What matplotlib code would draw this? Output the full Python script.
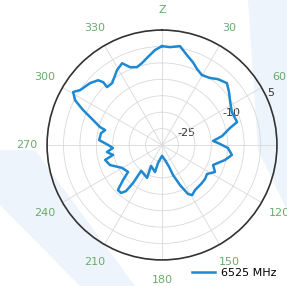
import numpy as np
import matplotlib
matplotlib.use('Agg')
import matplotlib.pyplot as plt
from matplotlib.patches import Polygon

# pattern (angle in degrees, level in dB)
angles_deg = [0, 4.7, 10.3, 15.5, 20.5, 24.7, 29.7, 35.6, 40.3, 46.4,
              51.7, 56.5, 64.8, 73.0, 76.0, 81.5, 85.5, 88.0, 92.6, 98.1,
              103.4, 111.4, 117.0, 122.8, 128.3, 135.0, 143.7, 149.0, 152.0, 155.8,
              159.9, 162.0, 168.0, 180.0, 192.5, 194.5, 207.6, 204.4, 218.9, 217.3,
              218.0, 220.5, 224.4, 228.1, 231.5, 240.1, 249.0, 255.3, 258.5, 262.7,
              266.5, 270.0, 274.5, 281.1, 284.7, 286.2, 289.9, 293.9, 297.3, 300.8,
              303.9, 310.7, 315.4, 316.9, 316.5, 321.1, 329.0, 334.0, 337.7, 342.2,
              346.3, 350.2, 355.8, 360.0]
gain_db = [0.1, -0.1, 0.6, -1.6, -3.1, -4.5, -5.5, -4.9, -3.7, -2.7,
           -4.0, -5.2, -6.5, -6.1, -8.7, -11.5, -14.4, -12.9, -9.9, -8.5,
           -10.3, -13.3, -11.9, -13.7, -13.3, -13.2, -13.0, -12.2, -13.1, -16.6,
           -20.3, -22.9, -25.2, -26.7, -24.4, -21.5, -22.8, -19.0, -19.9, -15.5,
           -12.2, -10.8, -10.8, -14.1, -16.8, -16.0, -13.0, -12.1, -14.8, -13.1,
           -15.0, -13.6, -10.8, -11.1, -12.1, -10.3, -7.7, -3.7, -0.2, 1.5,
           0.0, -1.1, -2.3, -3.8, -5.7, -5.8, -3.4, -2.3, -4.4, -5.1,
           -4.3, -3.1, -1.0, 0.1]

r_ticks = [-30, -25, -20, -15, -10, -5, 0, 5]
r_labels = ['', '-25', '', '', '-10', '', '', '5']
theta_ticks = [0, 30, 60, 90, 120, 150, 180, 210, 240, 270, 300, 330]
theta_labels = ['Z', '30', '60', '90', '120', '150', '180', '210', '240', '270', '300', '330']
series_name = '6525 MHz'

line_color = '#1f88d2'
label_green = '#6aab6a'
wm_color = '#eef4fb'

fig = plt.figure(figsize=(2.87, 2.86), dpi=100)

# faint background watermark shapes (figure pixel coords, y from top)
W, H = 287.0, 286.0
for pts in ([(0, 150), (35, 150), (135, 286), (80, 286), (0, 205)],
            [(248, 0), (287, 0), (287, 210), (258, 150)]):
    fig.patches.append(Polygon([(x / W, 1 - y / H) for x, y in pts], closed=True,
                               transform=fig.transFigure, facecolor=wm_color,
                               edgecolor='none', zorder=-5))

ax = fig.add_axes([0.164, 0.091, 0.801, 0.804], projection='polar')
ax.patch.set_alpha(0)
ax.set_zorder(1)

ax.plot(np.deg2rad(angles_deg), gain_db, color=line_color, linewidth=1.8, label=series_name)

ax.set_theta_zero_location('N')
ax.set_theta_direction(-1)
ax.set_ylim(-30, 5)
ax.set_yticks(r_ticks)
ax.set_yticklabels(r_labels, fontsize=8, color='#333333')
ax.set_rlabel_position(66)
ax.set_xticks(np.deg2rad(theta_ticks))
ax.set_xticklabels(theta_labels, fontsize=8, color=label_green)
ax.tick_params(axis='x', pad=4)

ax.grid(True, color='#d9d9d9', linewidth=0.6)
ax.spines['polar'].set_color('#333333')
ax.spines['polar'].set_linewidth(1.2)

leg = fig.legend(loc='center left', bbox_to_anchor=(0.655, 0.045), frameon=False,
                 fontsize=8, handlelength=2.0, handletextpad=0.6, borderaxespad=0)
leg.set_zorder(2)

fig.savefig('out.png', dpi=100, facecolor='white')
